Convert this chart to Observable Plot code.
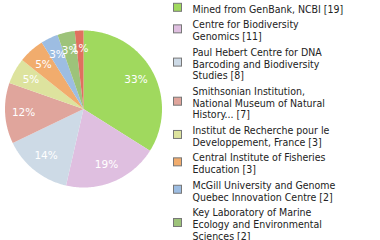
<!DOCTYPE html>
<html>
<head>
<meta charset="utf-8">
<script src="https://cdn.jsdelivr.net/npm/d3@7"></script>
<script src="https://cdn.jsdelivr.net/npm/@observablehq/plot@0.6"></script>
<style>
  html, body { margin: 0; padding: 0; background: #fff; }
  #chart { width: 380px; height: 240px; overflow: hidden; }
</style>
</head>
<body>
<div id="chart"></div>
<script>
const sources = [
  "Mined from GenBank, NCBI",
  "Centre for Biodiversity Genomics",
  "Paul Hebert Centre for DNA Barcoding and Biodiversity Studies",
  "Smithsonian Institution, National Museum of Natural History...",
  "Institut de Recherche pour le Developpement, France",
  "Central Institute of Fisheries Education",
  "McGill University and Genome Quebec Innovation Centre",
  "Key Laboratory of Marine Ecology and Environmental Sciences",
  "Other"
];
const counts = [19, 11, 8, 7, 3, 3, 2, 2, 1];
const legendLabels = [
  "Mined from GenBank, NCBI [19]",
  "Centre for Biodiversity\nGenomics [11]",
  "Paul Hebert Centre for DNA\nBarcoding and Biodiversity\nStudies [8]",
  "Smithsonian Institution,\nNational Museum of Natural\nHistory... [7]",
  "Institut de Recherche pour le\nDeveloppement, France [3]",
  "Central Institute of Fisheries\nEducation [3]",
  "McGill University and Genome\nQuebec Innovation Centre [2]",
  "Key Laboratory of Marine\nEcology and Environmental\nSciences [2]",
  "Other [1]"
];
const colors = ["#a0d95e", "#dfbfe0", "#cddae6", "#e0a59c", "#dde39e", "#f1ac6d", "#9dbde2", "#9dc37a", "#e0705f"];

// layout
const W = 380, H = 240;
const cx = 83, cy = 108.5, R = 78.5, RL = 60;
const legX = 173.5, legSq = 8, legTextX = 192;
const lineH = 11.7, gap = 4, legTop = 8.5;

const rows = sources.map((s, i) => ({src: s, count: counts[i], label: legendLabels[i]}));
const total = d3.sum(counts);
const arcs = d3.pie().sort(null).value(d => d.count)(rows);

const polyPts = [];
arcs.forEach(a => {
  polyPts.push({src: a.data.src, x: cx, y: cy});
  const n = Math.max(2, Math.ceil((a.endAngle - a.startAngle) / (Math.PI / 180)));
  for (let k = 0; k <= n; k++) {
    const t = a.startAngle + (a.endAngle - a.startAngle) * k / n;
    polyPts.push({src: a.data.src, x: cx + R * Math.sin(t), y: cy - R * Math.cos(t)});
  }
});

const pctLabels = arcs.map(a => {
  const m = (a.startAngle + a.endAngle) / 2;
  return {x: cx + RL * Math.sin(m), y: cy - RL * Math.cos(m), text: Math.floor(a.data.count / total * 100) + "%"};
});

let yCur = legTop;
const legend = rows.map(r => {
  const nLines = r.label.split("\n").length;
  const first = yCur;
  const center = first + (nLines - 1) * lineH / 2;
  yCur = first + nLines * lineH + gap;
  return {src: r.src, label: r.label, yText: center, ySq: center - 1.2};
});

const plot = Plot.plot({
  width: W, height: H,
  margin: 0,
  x: {domain: [0, W], range: [0, W], axis: null},
  y: {domain: [0, H], range: [0, H], axis: null},
  color: {type: "ordinal", domain: sources, range: colors},
  style: {fontFamily: "DejaVu Sans", background: "#fff"},
  marks: [
    Plot.line(polyPts, {x: "x", y: "y", z: "src", fill: "src", stroke: "none", curve: "linear-closed"}),
    Plot.text(pctLabels, {x: "x", y: "y", text: "text", fill: "white", fontSize: 10.5, fontFamily: "DejaVu Sans", textAnchor: "middle"}),
    Plot.rect(legend, {
      x1: () => legX, x2: () => legX + legSq,
      y1: d => d.ySq - legSq / 2, y2: d => d.ySq + legSq / 2,
      fill: "src", stroke: "#777", strokeWidth: 1
    }),
    Plot.text(legend, {x: () => legTextX, y: "yText", text: "label", textAnchor: "start", lineAnchor: "middle",
      fontSize: 10.5, lineHeight: lineH / 10.5, fill: "#222", fontFamily: "DejaVu Sans Condensed"})
  ]
});
document.getElementById("chart").appendChild(plot);
</script>
</body>
</html>
